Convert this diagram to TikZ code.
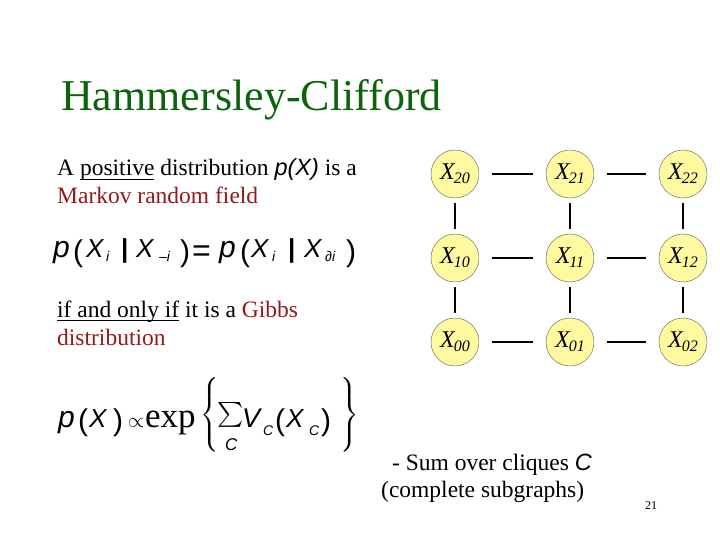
\documentclass[tikz,border=0pt]{standalone}
\usepackage{exscale}
\usepackage{fontspec}
\setmainfont{Liberation Serif}
\setsansfont{Liberation Sans}
\definecolor{titlegreen}{RGB}{10,100,10}
\definecolor{darkred}{RGB}{150,25,25}
\definecolor{nodeyellow}{RGB}{255,249,160}
\newcommand\ar[1]{\mbox{\sffamily\itshape #1}}
\newcommand\fs[1]{\fontsize{#1}{#1}\selectfont}
\newsavebox\ulbox
\newcommand\myul[1]{\sbox\ulbox{#1}\rlap{\rule[-4.3pt]{\wd\ulbox}{1.1pt}}\usebox\ulbox}
% glyph at horizontal offset #1, raised by #2
\newcommand\gl[3]{\rlap{\hspace*{#1pt}\raisebox{#2pt}{#3}}}
\newcommand\xl[1]{{\itshape X\kern-1pt\raisebox{-0.35ex}{\fs{16}#1}}}
\tikzset{
  txt/.style={anchor=base west, inner sep=0pt, font=\fontsize{23.5}{28}\selectfont},
  eqn/.style={anchor=base west, inner sep=0pt},
  vnode/.style={circle, draw=black!65, line width=0.4pt, fill=nodeyellow, minimum size=48pt, inner sep=0pt, font=\fs{24}},
  hedge/.style={line width=2.6pt, shorten <=13pt, shorten >=13pt},
  vedge/.style={line width=2.6pt, shorten <=5pt, shorten >=5pt}
}
\begin{document}
\begin{tikzpicture}[x=1pt,y=-1pt]
\useasboundingbox (0,0) rectangle (720,540);
\node[anchor=base west, inner sep=0pt, text=titlegreen, font=\fs{44}] (title) at (61,111) {Hammersley-Clifford};
\node[txt] (l1) at (57,176) {A \myul{positive} distribution \ar{p(X)} is a};
\node[txt, text=darkred] (l2) at (57,204) {Markov random field};
% p(X_i | X_{-i}) = p(X_i | X_{di})
\node[eqn] (eq1) at (53,258) {\sffamily
  \gl{0}{0}{\fs{30}\itshape p}%
  \gl{20}{-3}{\fs{30}(}%
  \gl{33}{0}{\fs{26}\itshape X}%
  \gl{53}{-4}{\fs{14}\itshape i}%
  \gl{68}{0}{\fs{26}\bfseries |}%
  \gl{83}{0}{\fs{26}\itshape X}%
  \gl{106}{-4}{\fs{14}\itshape \textendash i}%
  \gl{127}{-3}{\fs{30})}%
  \gl{139}{-4}{\fs{32}=}%
  \gl{166}{0}{\fs{30}\itshape p}%
  \gl{187}{-3}{\fs{30}(}%
  \gl{198}{0}{\fs{26}\itshape X}%
  \gl{219}{-4}{\fs{14}\itshape i}%
  \gl{235}{0}{\fs{26}\bfseries |}%
  \gl{251}{0}{\fs{26}\itshape X}%
  \gl{272}{-4}{\fs{14}\itshape ∂i}%
  \gl{293}{-3}{\fs{30})}%
  \hspace*{305pt}};
\node[txt] (l3) at (57,317) {\myul{if and only if} it is a \textcolor{darkred}{Gibbs}};
\node[txt, text=darkred] (l4) at (57,345) {distribution};
% p(X) \propto exp{ sum_C V_C(X_C) }
\node[eqn] (eq2) at (58,427) {\sffamily
  \gl{0}{0}{\fs{30}\itshape p}%
  \gl{20}{-3}{\fs{30}(}%
  \gl{31}{0}{\fs{26}\itshape X}%
  \gl{55}{-3}{\fs{30})}%
  \gl{70}{0}{\fs{20}$\propto$}%
  \gl{87}{0}{\rmfamily\fs{35}exp}%
  \gl{142}{7}{\fs{20}$\left\{\rule[-33pt]{0pt}{76pt}\right.$}%
  \gl{159}{6}{\fs{30}$\sum$}%
  \gl{167}{-23}{\fs{17}\itshape C}%
  \gl{184}{0}{\fs{27}\itshape V}%
  \gl{205}{-8}{\fs{14}\itshape C}%
  \gl{217}{-3}{\fs{30}(}%
  \gl{228}{0}{\fs{26}\itshape X}%
  \gl{251}{-8}{\fs{14}\itshape C}%
  \gl{263}{-3}{\fs{30})}%
  \gl{281}{7}{\fs{20}$\left.\rule[-33pt]{0pt}{76pt}\right\}$}%
  \hspace*{300pt}};
\node[txt] (s1) at (386,470) {\ - Sum over cliques \ar{C}};
\node[txt] (s2) at (381,497) {(complete subgraphs)};
\node[anchor=base west, inner sep=0pt, font=\fs{12}] (pg) at (645,509) {21};
% grid
\node[vnode] (n20) at (455,174) {\xl{20}};
\node[vnode] (n21) at (570,174) {\xl{21}};
\node[vnode] (n22) at (683,174) {\xl{22}};
\node[vnode] (n10) at (455,258) {\xl{10}};
\node[vnode] (n11) at (570,258) {\xl{11}};
\node[vnode] (n12) at (683,258) {\xl{12}};
\node[vnode] (n00) at (455,342) {\xl{00}};
\node[vnode] (n01) at (570,342) {\xl{01}};
\node[vnode] (n02) at (683,342) {\xl{02}};
\foreach \r in {2,1,0}{
  \draw[hedge] (n\r0) -- (n\r1);
  \draw[hedge] (n\r1) -- (n\r2);
}
\foreach \c in {0,1,2}{
  \draw[vedge] (n2\c) -- (n1\c);
  \draw[vedge] (n1\c) -- (n0\c);
}
\end{tikzpicture}
\end{document}
